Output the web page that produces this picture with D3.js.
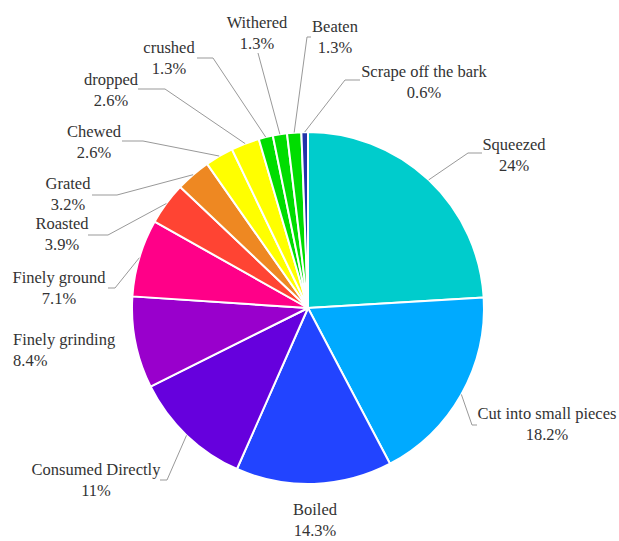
<!DOCTYPE html>
<html>
<head>
<meta charset="utf-8">
<script src="https://cdn.jsdelivr.net/npm/d3@7/dist/d3.min.js"></script>
<style>
  html, body { margin: 0; padding: 0; background: #fff; }
  svg { display: block; }
</style>
</head>
<body>
<svg id="chart" width="619" height="541"></svg>
<script>
// Processing methods and their share (%)
const categories = [
  "Squeezed", "Cut into small pieces", "Boiled", "Consumed Directly",
  "Finely grinding", "Finely ground", "Roasted", "Grated", "Chewed",
  "dropped", "crushed", "Withered", "Beaten", "Scrape off the bark"
];
const values = [24, 18.2, 14.3, 11, 8.4, 7.1, 3.9, 3.2, 2.6, 2.6, 1.3, 1.3, 1.3, 0.6];
const valueLabels = ["24%", "18.2%", "14.3%", "11%", "8.4%", "7.1%", "3.9%", "3.2%", "2.6%", "2.6%", "1.3%", "1.3%", "1.3%", "0.6%"];
const colors = [
  "#00cccc", "#00aaff", "#2244ff", "#6600dd", "#9900cc", "#ff0088", "#ff4433",
  "#ee8822", "#ffff00", "#ffff00", "#00dd00", "#00dd00", "#00dd00", "#2233aa"
];

// Label placement: text x, first baseline y, anchor, leader elbow and end (null = no leader)
const labelLayout = [
  { x: 514, y: 150, anchor: "middle", elbow: [468, 153], end: [482, 153] },
  { x: 547, y: 419, anchor: "middle", elbow: [472, 425], end: [477, 425] },
  { x: 315, y: 515, anchor: "middle", elbow: null },
  { x: 96,  y: 475, anchor: "middle", elbow: [167, 480], end: [160, 480] },
  { x: 13,  y: 345, anchor: "start",  elbow: null },
  { x: 59,  y: 283, anchor: "middle", elbow: [115, 288], end: [108, 288] },
  { x: 62,  y: 229, anchor: "middle", elbow: [108, 235], end: [88, 235] },
  { x: 68,  y: 189, anchor: "middle", elbow: [117, 195], end: [92, 195] },
  { x: 94,  y: 137, anchor: "middle", elbow: [143, 141], end: [122, 141] },
  { x: 111, y: 85,  anchor: "middle", elbow: [165, 89],  end: [138, 89] },
  { x: 169, y: 53,  anchor: "middle", elbow: [213, 58],  end: [197, 58] },
  { x: 257, y: 28,  anchor: "middle", elbow: [258, 53],  end: [258, 53] },
  { x: 335, y: 32,  anchor: "middle", elbow: [307, 37],  end: [311, 37] },
  { x: 424, y: 77,  anchor: "middle", elbow: [345, 80],  end: [360, 80] }
];

const fontFamily = "'Liberation Serif', 'Times New Roman', Times, 'DejaVu Serif', serif";
const cx = 308, cy = 308, radius = 176;
const svg = d3.select("#chart");
const g = svg.append("g").attr("transform", `translate(${cx},${cy})`);

const pie = d3.pie().sort(null).value(d => d.value).startAngle(0).endAngle(2 * Math.PI);
const data = categories.map((c, i) => ({ name: c, value: values[i], label: valueLabels[i], color: colors[i], layout: labelLayout[i] }));
const arcs = pie(data);
const arc = d3.arc().innerRadius(0).outerRadius(radius);

g.selectAll("path.slice")
  .data(arcs)
  .join("path")
  .attr("class", "slice")
  .attr("d", arc)
  .attr("fill", d => d.data.color)
  .attr("stroke", "#fff")
  .attr("stroke-width", 2)
  .attr("stroke-linejoin", "round");

// Leader lines from the slice rim to each label
const leaders = svg.append("g");
arcs.forEach(d => {
  const L = d.data.layout;
  if (!L.elbow) return;
  const mid = (d.startAngle + d.endAngle) / 2;
  const p0 = [cx + radius * Math.sin(mid), cy - radius * Math.cos(mid)];
  leaders.append("polyline")
    .attr("points", [p0, L.elbow, L.end].map(p => p.join(",")).join(" "))
    .attr("fill", "none")
    .attr("stroke", "#999")
    .attr("stroke-width", 1);
});

// Two-line labels: name and percentage
const labels = svg.append("g")
  .attr("font-family", fontFamily)
  .attr("font-size", 16.5)
  .attr("fill", "#333");
arcs.forEach(d => {
  const L = d.data.layout;
  const t = labels.append("text").attr("text-anchor", L.anchor);
  t.append("tspan").attr("x", L.x).attr("y", L.y).text(d.data.name);
  t.append("tspan").attr("x", L.x).attr("y", L.y + 21).text(d.data.label);
});
</script>
</body>
</html>
